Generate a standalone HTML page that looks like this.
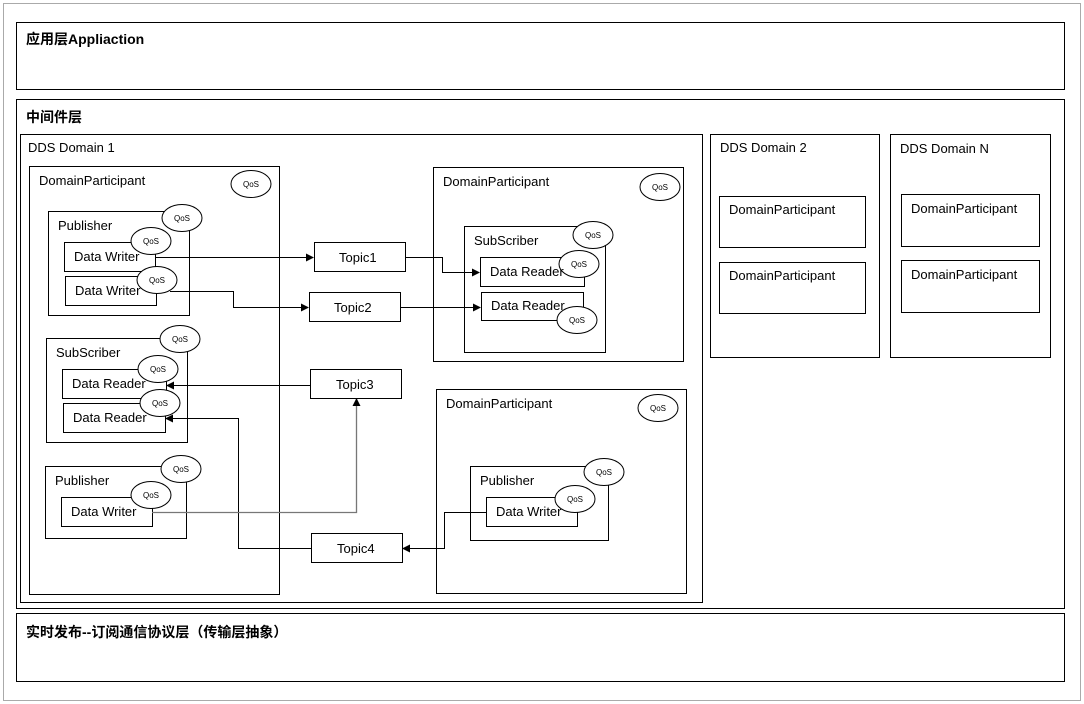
<!DOCTYPE html>
<html><head><meta charset="utf-8"><style>
html,body{margin:0;padding:0;background:#fff;}
svg{display:block;}
text{font-family:"Liberation Sans","Noto Sans CJK SC",sans-serif;fill:#000;}
.q{font-size:8px;}
.t{font-size:13px;}
</style></head><body>
<svg width="1084" height="704" viewBox="0 0 1084 704" xmlns="http://www.w3.org/2000/svg">
<defs><marker id="a" markerWidth="8" markerHeight="8" refX="7" refY="4" orient="auto" markerUnits="userSpaceOnUse"><path d="M0,0 L8,4 L0,8 z" fill="#000"/></marker></defs>
<g fill="none" stroke="#000" stroke-width="1">
<rect x="3.5" y="3.5" width="1077" height="697" stroke="#aaa"/>
<rect x="16.5" y="22.5" width="1048" height="67"/>
<rect x="16.5" y="99.5" width="1048" height="509"/>
<rect x="16.5" y="613.5" width="1048" height="68"/>
<rect x="20.5" y="134.5" width="682" height="468"/>
<rect x="710.5" y="134.5" width="169" height="223"/>
<rect x="890.5" y="134.5" width="160" height="223"/>
<rect x="719.5" y="196.5" width="146" height="51"/>
<rect x="719.5" y="262.5" width="146" height="51"/>
<rect x="901.5" y="194.5" width="138" height="52"/>
<rect x="901.5" y="260.5" width="138" height="52"/>
<rect x="29.5" y="166.5" width="250" height="428"/>
<rect x="48.5" y="211.5" width="141" height="104"/>
<rect x="64.5" y="242.5" width="91" height="29"/>
<rect x="65.5" y="276.5" width="91" height="29"/>
<rect x="46.5" y="338.5" width="141" height="104"/>
<rect x="62.5" y="369.5" width="104" height="29"/>
<rect x="63.5" y="403.5" width="102" height="29"/>
<rect x="45.5" y="466.5" width="141" height="72"/>
<rect x="61.5" y="497.5" width="91" height="29"/>
<rect x="314.5" y="242.5" width="91" height="29"/>
<rect x="309.5" y="292.5" width="91" height="29"/>
<rect x="310.5" y="369.5" width="91" height="29"/>
<rect x="311.5" y="533.5" width="91" height="29"/>
<rect x="433.5" y="167.5" width="250" height="194"/>
<rect x="464.5" y="226.5" width="141" height="126"/>
<rect x="480.5" y="257.5" width="104" height="29"/>
<rect x="481.5" y="292.5" width="102" height="28"/>
<rect x="436.5" y="389.5" width="250" height="204"/>
<rect x="470.5" y="466.5" width="138" height="74"/>
<rect x="486.5" y="497.5" width="91" height="29"/>
<path d="M155 257.5 H313" marker-end="url(#a)"/>
<path d="M170 291.5 H233.5 V307.5 H308" marker-end="url(#a)"/>
<path d="M405 257.5 H442.5 V272.5 H479" marker-end="url(#a)"/>
<path d="M400 307.5 H480" marker-end="url(#a)"/>
<path d="M310 385.5 H167" marker-end="url(#a)"/>
<path d="M311 548.5 H238.5 V418.5 H166" marker-end="url(#a)"/>
<path d="M152 512.5 H356.5 V399" stroke="#777" stroke-width="1.3" marker-end="url(#a)"/>
<path d="M486 512.5 H444.5 V548.5 H403" marker-end="url(#a)"/>
</g>
<g fill="#fff" stroke="#000">
<ellipse cx="251" cy="184" rx="20" ry="13.5"/>
<ellipse cx="182" cy="218" rx="20" ry="13.5"/>
<ellipse cx="151" cy="241" rx="20" ry="13.5"/>
<ellipse cx="157" cy="280" rx="20" ry="13.5"/>
<ellipse cx="180" cy="339" rx="20" ry="13.5"/>
<ellipse cx="158" cy="369" rx="20" ry="13.5"/>
<ellipse cx="160" cy="403" rx="20" ry="13.5"/>
<ellipse cx="181" cy="469" rx="20" ry="13.5"/>
<ellipse cx="151" cy="495" rx="20" ry="13.5"/>
<ellipse cx="660" cy="187" rx="20" ry="13.5"/>
<ellipse cx="593" cy="235" rx="20" ry="13.5"/>
<ellipse cx="579" cy="264" rx="20" ry="13.5"/>
<ellipse cx="577" cy="320" rx="20" ry="13.5"/>
<ellipse cx="658" cy="408" rx="20" ry="13.5"/>
<ellipse cx="604" cy="472" rx="20" ry="13.5"/>
<ellipse cx="575" cy="499" rx="20" ry="13.5"/>
</g>
<g class="q" text-anchor="middle">
<text x="251" y="187">QoS</text><text x="182" y="221">QoS</text><text x="151" y="244">QoS</text>
<text x="157" y="283">QoS</text><text x="180" y="342">QoS</text><text x="158" y="372">QoS</text>
<text x="160" y="406">QoS</text><text x="181" y="472">QoS</text><text x="151" y="498">QoS</text>
<text x="660" y="190">QoS</text><text x="593" y="238">QoS</text><text x="579" y="267">QoS</text>
<text x="577" y="323">QoS</text><text x="658" y="411">QoS</text><text x="604" y="475">QoS</text>
<text x="575" y="502">QoS</text>
</g>
<g font-weight="bold" style="font-size:14px">
<text x="26" y="44" style="font-weight:bold;font-size:14px">应用层Appliaction</text>
<text x="26" y="122" style="font-weight:bold;font-size:14px">中间件层</text>
<text x="26" y="637" style="font-weight:bold;font-size:14px">实时发布--订阅通信协议层（传输层抽象）</text>
</g>
<g class="t">
<text x="28" y="152">DDS Domain 1</text>
<text x="720" y="152">DDS Domain 2</text>
<text x="900" y="153">DDS Domain N</text>
<text x="729" y="214">DomainParticipant</text>
<text x="729" y="280">DomainParticipant</text>
<text x="911" y="213">DomainParticipant</text>
<text x="911" y="279">DomainParticipant</text>
<text x="39" y="185">DomainParticipant</text>
<text x="58" y="230">Publisher</text>
<text x="74" y="261">Data Writer</text>
<text x="75" y="295">Data Writer</text>
<text x="56" y="357">SubScriber</text>
<text x="72" y="388">Data Reader</text>
<text x="73" y="422">Data Reader</text>
<text x="55" y="485">Publisher</text>
<text x="71" y="516">Data Writer</text>
<text x="339" y="262">Topic1</text>
<text x="334" y="312">Topic2</text>
<text x="336" y="389">Topic3</text>
<text x="337" y="553">Topic4</text>
<text x="443" y="186">DomainParticipant</text>
<text x="474" y="245">SubScriber</text>
<text x="490" y="276">Data Reader</text>
<text x="491" y="310">Data Reader</text>
<text x="446" y="408">DomainParticipant</text>
<text x="480" y="485">Publisher</text>
<text x="496" y="516">Data Writer</text>
</g>
</svg>
</body></html>
